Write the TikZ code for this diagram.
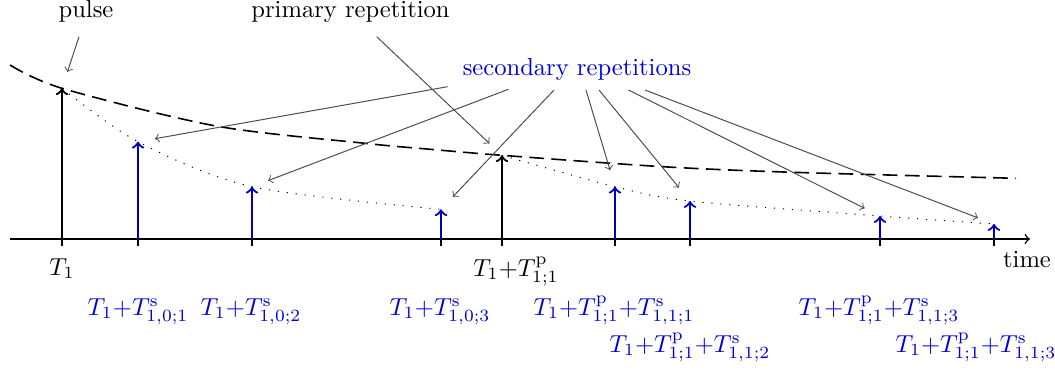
\documentclass[tikz,border=0pt]{standalone}
\begin{document}
\begin{tikzpicture}[
  x=0.407pt,y=-0.407pt,line width=0.4pt,
  every node/.style={inner sep=0pt},
  axis line/.style={semithick},
  pulse arrow/.style={->,line width=0.9pt},
  echo arrow/.style={->,line width=0.9pt,blue!75!black},
  time label/.style={anchor=base},
  echo label/.style={anchor=base,text=blue!85!black},
  pointer/.style={->,black!70,shorten >=7pt},
  envelope/.style={line width=0.65pt,dash pattern=on 6pt off 3pt},
  decay/.style={dash pattern=on 0.45pt off 3.2pt}
]
  \useasboundingbox (0,0) rectangle (1055,370);

  % time axis
  \coordinate (origin) at (10,239);
  \coordinate (axisend) at (1030,239);
  \draw[axis line,->] (origin) -- (axisend);
  \node[time label] (time) at (1027,267) {time};

  % pulse and primary repetition
  \foreach \x/\h/\n in {62/88.3/p0,502/155.3/p1} {
    \coordinate (\n-foot) at (\x,239);
    \coordinate (\n-top) at (\x,\h);
    \draw[axis line] (\n-foot) -- ++(0,7);
    \draw[pulse arrow] (\n-foot) -- (\n-top);
  }
  % secondary repetitions
  \foreach \x/\h/\n in {138/141.7/s1,252/186.7/s2,441/209.3/s3,
      615/186.7/s4,690/201/s5,880/216/s6,994/224/s7} {
    \coordinate (\n-foot) at (\x,239);
    \coordinate (\n-top) at (\x,\h);
    \draw[axis line] (\n-foot) -- ++(0,7);
    \draw[echo arrow] (\n-foot) -- (\n-top);
  }

  % envelope and decay of the repetitions
  \draw[envelope] plot[smooth] coordinates {(10,65) (p0-top) (216,126)
    (365,143.3) (427,149) (p1-top) (663,166.7) (793,172.3) (1016,178.3)};
  \draw[decay] plot[smooth] coordinates {(p0-top) (s1-top) (s2-top) (s3-top)};
  \draw[decay] plot[smooth] coordinates {(p1-top) (s4-top) (s5-top)
    (s6-top) (s7-top)};

  % labels on the time axis
  \node[time label] (t-p0) at (62,275) {$T_1$};
  \node[time label] (t-p1) at (516,276) {$T_1{+}T^{\mathrm{p}}_{1;1}$};
  \node[echo label] (t-s1) at (138,315) {$T_1{+}T^{\mathrm{s}}_{1,0;1}$};
  \node[echo label] (t-s2) at (251,315) {$T_1{+}T^{\mathrm{s}}_{1,0;2}$};
  \node[echo label] (t-s3) at (440,315) {$T_1{+}T^{\mathrm{s}}_{1,0;3}$};
  \node[echo label] (t-s4) at (614,315)
    {$T_1{+}T^{\mathrm{p}}_{1;1}{+}T^{\mathrm{s}}_{1,1;1}$};
  \node[echo label] (t-s5) at (690,352)
    {$T_1{+}T^{\mathrm{p}}_{1;1}{+}T^{\mathrm{s}}_{1,1;2}$};
  \node[echo label] (t-s6) at (879,315)
    {$T_1{+}T^{\mathrm{p}}_{1;1}{+}T^{\mathrm{s}}_{1,1;3}$};
  \node[echo label] (t-s7) at (976,352)
    {$T_1{+}T^{\mathrm{p}}_{1;1}{+}T^{\mathrm{s}}_{1,1;3}$};

  % names and pointers
  \node[anchor=base] (pulse) at (86,17) {pulse};
  \node[anchor=base] (primary) at (350.5,17) {primary repetition};
  \node[echo label] (secondary) at (577,75) {secondary repetitions};

  \coordinate (pulse-from) at (79,36.7);
  \coordinate (primary-from) at (376.7,36.7);
  \draw[pointer] (pulse-from) -- (p0-top);
  \draw[pointer] (primary-from) -- (p1-top);
  \foreach \x/\y/\n in {447.6/86.7/s1,508.4/89.3/s2,554/90/s3,586/90/s4,
      599/90/s5,628.5/90/s6,645/90/s7} {
    \coordinate (\n-from) at (\x,\y);
    \draw[pointer] (\n-from) -- (\n-top);
  }
\end{tikzpicture}
\end{document}
